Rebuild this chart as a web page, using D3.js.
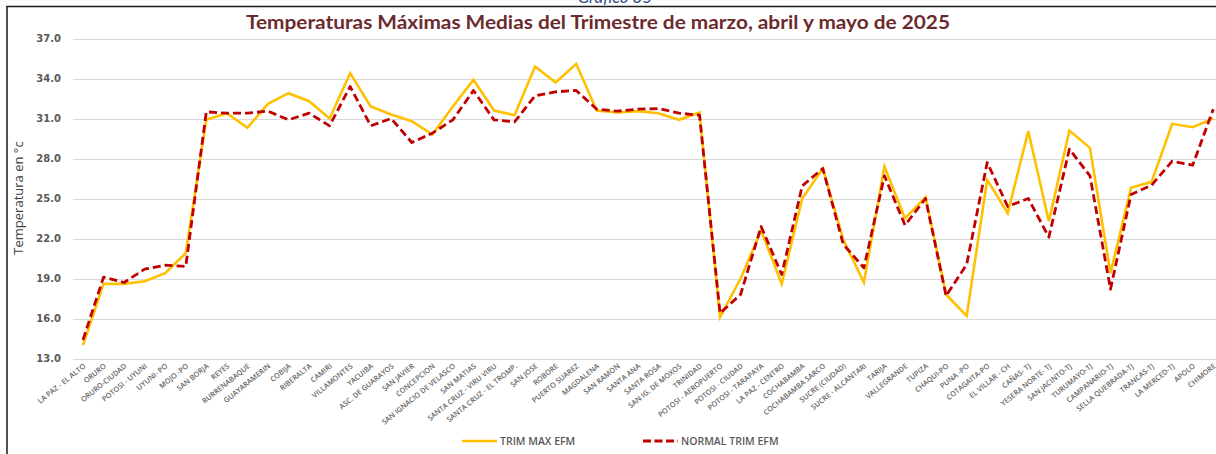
<!DOCTYPE html>
<html>
<head>
<meta charset="utf-8">
<script src="https://cdn.jsdelivr.net/npm/d3@7"></script>
<style>
  html, body { margin: 0; padding: 0; background: #fff; }
  svg { display: block; }
</style>
</head>
<body>
<svg id="chart" width="1216" height="454"></svg>
<script>
// Stations (x categories)
const stations = [
  "LA PAZ - EL ALTO", "ORURO", "ORURO-CIUDAD", "POTOSI - UYUNI", "UYUNI- PO", "MOJO -PO",
  "SAN BORJA", "REYES", "RURRENABAQUE", "GUAYARAMERIN", "COBIJA", "RIBERALTA", "CAMIRI",
  "VILLAMONTES", "YACUIBA", "ASC. DE GUARAYOS", "SAN JAVIER", "CONCEPCION",
  "SAN IGNACIO DE VELASCO", "SAN MATIAS", "SANTA CRUZ - VIRU VIRU", "SANTA CRUZ - EL TROMP.",
  "SAN JOSE", "ROBORE", "PUERTO SUAREZ", "MAGDALENA", "SAN RAMON", "SANTA ANA", "SANTA ROSA",
  "SAN IG. DE MOXOS", "TRINIDAD", "POTOSI - AEROPUERTO", "POTOSI - CIUDAD", "POTOSI - TARAPAYA",
  "LA PAZ - CENTRO", "COCHABAMBA", "COCHABAMBA SARCO", "SUCRE (CIUDAD)", "SUCRE - ALCANTARI",
  "TARIJA", "VALLEGRANDE", "TUPIZA", "CHAQUI-PO", "PUNA -PO", "COTAGAITA-PO", "EL VILLAR - CH",
  "CAÑAS- TJ", "YESERA NORTE- TJ", "SAN JACINTO-TJ", "TURUMAYO-TJ", "CAMPANARIO-TJ",
  "SELLA QUEBRADA-TJ", "TRANCAS-TJ", "LA MERCED-TJ", "APOLO", "CHIMORE"
];

// Mean maximum temperature, Mar–May 2025 (°C)
const trimMax = [
  14.0, 18.6, 18.6, 18.8, 19.4, 20.9,
  30.9, 31.4, 30.3, 32.1, 32.9, 32.3, 31.0,
  34.4, 31.9, 31.3, 30.8, 29.8,
  31.9, 33.9, 31.6, 31.25,
  34.9, 33.7, 35.1, 31.6, 31.45, 31.55, 31.4,
  30.9, 31.45, 16.1, 19.0, 22.6,
  18.6, 25.0, 27.25, 21.9, 18.7,
  27.4, 23.5, 25.1, 17.8, 16.2, 26.4, 23.9,
  30.05, 23.3, 30.1, 28.8, 19.4,
  25.8, 26.25, 30.6, 30.35, 31.0
];

// Normal for the same quarter (°C)
const normalTrim = [
  14.4, 19.1, 18.7, 19.7, 20.0, 19.9,
  31.5, 31.4, 31.4, 31.55, 30.9, 31.4, 30.45,
  33.4, 30.45, 31.0, 29.2, 29.9,
  30.9, 33.1, 30.9, 30.75,
  32.7, 33.0, 33.1, 31.7, 31.55, 31.7, 31.75,
  31.4, 31.25, 16.4, 17.8, 22.9,
  19.3, 25.95, 27.25, 21.55, 19.8,
  26.7, 23.0, 25.0, 17.7, 20.05, 27.7, 24.4,
  25.0, 22.1, 28.7, 26.7, 18.2,
  25.3, 26.0, 27.8, 27.5, 31.7
];

const yTicks = [13, 16, 19, 22, 25, 28, 31, 34, 37];

const svg = d3.select("#chart");

// Frame around the figure
svg.append("line").attr("x1", 6.5).attr("x2", 1216).attr("y1", 6.5).attr("y2", 6.5)
  .attr("stroke", "#1a1a1a").attr("stroke-width", 1.5);
svg.append("line").attr("x1", 7).attr("x2", 7).attr("y1", 6).attr("y2", 454)
  .attr("stroke", "#1a1a1a").attr("stroke-width", 1.5);

// Figure caption above the frame
svg.append("text")
  .attr("x", 615).attr("y", 3)
  .attr("text-anchor", "middle")
  .attr("font-family", "Lato, 'Open Sans', sans-serif")
  .attr("font-style", "italic")
  .attr("font-size", 17)
  .attr("fill", "#2e4f8a")
  .text("Gráfico 35");

// Title
svg.append("text")
  .attr("x", 598).attr("y", 29)
  .attr("text-anchor", "middle")
  .attr("font-family", "Lato, 'Open Sans', sans-serif")
  .attr("font-weight", "bold")
  .attr("font-size", 18)
  .attr("fill", "#6b2b2e")
  .attr("textLength", 704)
  .attr("lengthAdjust", "spacingAndGlyphs")
  .text("Temperaturas  Máximas Medias del Trimestre de marzo, abril y mayo de 2025");

const plotLeft = 73, plotRight = 1216;

const x = d3.scalePoint()
  .domain(stations)
  .range([83, 83 + 20.55 * (stations.length - 1)]);

const y = d3.scaleLinear().domain([13, 37]).range([358.5, 38.5]);

// Horizontal gridlines
svg.append("g")
  .selectAll("line")
  .data(yTicks)
  .join("line")
  .attr("x1", plotLeft).attr("x2", plotRight)
  .attr("y1", d => Math.round(y(d)) + 0.5)
  .attr("y2", d => Math.round(y(d)) + 0.5)
  .attr("stroke", "#d9d9d9")
  .attr("stroke-width", 1);

// Y axis labels
const yAxis = d3.axisLeft(y).tickValues(yTicks).tickFormat(d3.format(".1f")).tickSize(0).tickPadding(0);
const yg = svg.append("g").attr("transform", "translate(61,0)").call(yAxis);
yg.select(".domain").remove();
yg.selectAll("text")
  .attr("font-family", "'DejaVu Sans', sans-serif")
  .attr("font-weight", "bold")
  .attr("font-size", 10)
  .attr("fill", "#595959");

// Y axis title
svg.append("text")
  .attr("transform", "translate(23,198) rotate(-90)")
  .attr("text-anchor", "middle")
  .attr("font-family", "'Liberation Sans Narrow', 'Open Sans', sans-serif")
  .attr("font-size", 13)
  .attr("fill", "#404040")
  .text("Temperatura en °c");

// X axis labels (rotated)
const xAxis = d3.axisBottom(x).tickSize(0).tickPadding(0);
const xg = svg.append("g").attr("transform", "translate(0,365)").call(xAxis);
xg.select(".domain").remove();
xg.selectAll("text")
  .attr("text-anchor", "end")
  .attr("dy", "0.35em")
  .attr("transform", "translate(1,0) rotate(-39)")
  .attr("font-family", "'Open Sans', sans-serif")
  .attr("font-size", 7.3)
  .attr("font-weight", 600)
  .attr("fill", "#666666");

// Lines
const line = d3.line()
  .x((d, i) => x(stations[i]))
  .y(d => y(d));

svg.append("path")
  .datum(trimMax)
  .attr("d", line)
  .attr("fill", "none")
  .attr("stroke", "#FFC000")
  .attr("stroke-width", 2.6)
  .attr("stroke-linejoin", "miter");

svg.append("path")
  .datum(normalTrim)
  .attr("d", line)
  .attr("fill", "none")
  .attr("stroke", "#C00000")
  .attr("stroke-width", 2.8)
  .attr("stroke-dasharray", "8,4")
  .attr("stroke-linejoin", "round");

// Legend
const legend = [
  { label: "TRIM MAX EFM", color: "#FFC000", dash: null, x: 462 },
  { label: "NORMAL TRIM EFM", color: "#C00000", dash: "8,3.5", x: 643 }
];
const lg = svg.append("g");
legend.forEach(l => {
  lg.append("line")
    .attr("x1", l.x).attr("x2", l.x + 35)
    .attr("y1", 441).attr("y2", 441)
    .attr("stroke", l.color)
    .attr("stroke-width", l.dash ? 3 : 2.5)
    .attr("stroke-dasharray", l.dash);
  lg.append("text")
    .attr("x", l.x + 38).attr("y", 445)
    .attr("font-family", "'Open Sans', sans-serif")
    .attr("font-size", 10.5)
    .attr("font-weight", 600)
    .attr("fill", "#595959")
    .text(l.label);
});
</script>
</body>
</html>
